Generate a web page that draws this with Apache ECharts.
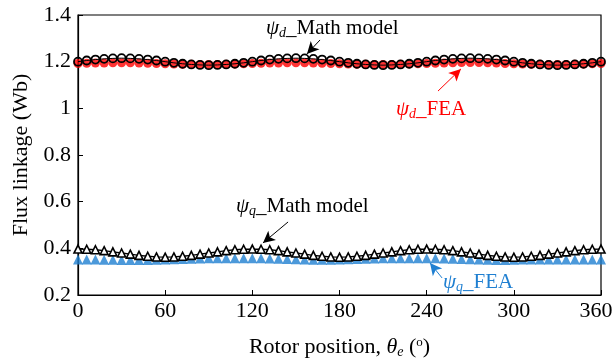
<!DOCTYPE html>
<html><head><meta charset="utf-8">
<script src="https://cdn.jsdelivr.net/npm/echarts@6/dist/echarts.min.js"></script>
<style>html,body{margin:0;padding:0;background:#fff}#c{width:613px;height:358px}</style>
</head><body><div id="c"></div>
<script>
const theta = [0,6,12,18,24,30,36,42,48,54,60,66,72,78,84,90,96,102,108,114,120,126,132,138,144,150,156,162,168,174,180,186,192,198,204,210,216,222,228,234,240,246,252,258,264,270,276,282,288,294,300,306,312,318,324,330,336,342,348,354,360];
const psiDMath = [1.200,1.205,1.209,1.212,1.214,1.215,1.214,1.212,1.209,1.205,1.200,1.195,1.191,1.188,1.186,1.185,1.186,1.188,1.191,1.195,
1.200,1.205,1.209,1.212,1.214,1.215,1.214,1.212,1.209,1.205,1.200,1.195,1.191,1.188,1.186,1.185,1.186,1.188,1.191,1.195,
1.200,1.205,1.209,1.212,1.214,1.215,1.214,1.212,1.209,1.205,1.200,1.195,1.191,1.188,1.186,1.185,1.186,1.188,1.191,1.195,1.200];
const psiDFEA = [1.192,1.193,1.194,1.194,1.195,1.195,1.195,1.194,1.193,1.192,1.191,1.190,1.189,1.189,1.188,1.188,1.188,1.189,1.190,1.191,
1.192,1.193,1.194,1.194,1.195,1.195,1.195,1.194,1.193,1.192,1.191,1.190,1.189,1.189,1.188,1.188,1.188,1.189,1.190,1.191,
1.192,1.193,1.194,1.195,1.196,1.196,1.196,1.195,1.194,1.192,1.191,1.190,1.189,1.189,1.188,1.188,1.188,1.189,1.190,1.191,1.192];
const psiQMath = [0.397,0.396,0.394,0.390,0.385,0.380,0.375,0.370,0.366,0.363,0.362,0.363,0.366,0.370,0.375,0.380,0.385,0.390,0.394,0.396,
0.397,0.396,0.394,0.390,0.385,0.380,0.375,0.370,0.366,0.363,0.362,0.363,0.366,0.370,0.375,0.380,0.385,0.390,0.394,0.396,
0.397,0.396,0.394,0.390,0.385,0.380,0.375,0.370,0.366,0.363,0.362,0.363,0.366,0.370,0.375,0.380,0.385,0.390,0.394,0.396,0.397];
const psiQFEA = [0.352,0.352,0.352,0.351,0.351,0.350,0.350,0.350,0.350,0.351,0.352,0.353,0.354,0.355,0.356,0.357,0.358,0.358,0.358,0.358,
0.357,0.357,0.356,0.355,0.354,0.353,0.352,0.351,0.351,0.351,0.352,0.353,0.354,0.355,0.356,0.357,0.358,0.358,0.358,0.358,
0.358,0.357,0.356,0.355,0.354,0.353,0.352,0.351,0.350,0.350,0.351,0.352,0.352,0.352,0.352,0.352,0.352,0.352,0.352,0.352,0.352];
const xTicks = [0,60,120,180,240,300,360];
const yTicks = [0.2,0.4,0.6,0.8,1,1.2,1.4];

const FONT = '"Liberation Serif","Times New Roman",serif';
const pair = (xs, ys) => xs.map((x, i) => [x, ys[i]]);
const chart = echarts.init(document.getElementById('c'), null, {renderer:'canvas'});

function arrow(from, to, color){
  return {
    silent:true, animation:false,
    symbol:['none','arrow'], symbolSize:[9,12],
    lineStyle:{color:color, width:1, type:'solid'},
    label:{show:false},
    data:[[{coord:from},{coord:to}]]
  };
}
const rich = (color) => ({
  psi:{fontFamily:FONT, fontSize:21, fontStyle:'italic', color:color},
  sub:{fontFamily:FONT, fontSize:14, fontStyle:'italic', color:color, padding:[9,0,0,0]},
  t:{fontFamily:FONT, fontSize:21, color:color}
});
function ann(x, y, sub, txt, color){
  return {type:'text', left:x, top:y, z:100,
    style:{text:'{psi|ψ}{sub|'+sub+'}{t|_'+txt+'}', rich:rich(color), fill:color}};
}

chart.setOption({
  animation:false,
  backgroundColor:'#fff',
  grid:{left:78, right:12, top:15, bottom:63, show:true, borderColor:'#000', borderWidth:1.2, outerBoundsMode:'none', containLabel:false},
  xAxis:{type:'value', min:0, max:360, interval:60,
    name:'Rotor position, {i|θ}{s|e} ({o|o})', nameLocation:'middle', nameGap:41,
    nameTextStyle:{fontFamily:FONT, fontSize:22, color:'#000',
      rich:{i:{fontFamily:FONT, fontSize:22, fontStyle:'italic', color:'#000'},
            s:{fontFamily:FONT, fontSize:14, fontStyle:'italic', color:'#000', padding:[9,0,0,0]},
            o:{fontFamily:FONT, fontSize:13, color:'#000', padding:[0,0,9,0]}}},
    axisLine:{lineStyle:{color:'#000', width:1.2}},
    axisTick:{inside:true, length:5, lineStyle:{color:'#000'}},
    axisLabel:{fontFamily:FONT, fontSize:22, color:'#000', margin:5,
      formatter:v => v === 360 ? '{e|360}' : String(v),
      rich:{e:{fontFamily:FONT, fontSize:22, color:'#000', padding:[0,10,0,0]}}},
    splitLine:{show:false}},
  yAxis:{type:'value', min:0.2, max:1.4, interval:0.2,
    name:'Flux linkage (Wb)', nameLocation:'middle', nameGap:36,
    nameTextStyle:{fontFamily:FONT, fontSize:22, color:'#000'},
    axisLine:{lineStyle:{color:'#000', width:1.2}},
    axisTick:{inside:true, length:5, lineStyle:{color:'#000'}},
    axisLabel:{fontFamily:FONT, fontSize:22, color:'#000', margin:7,
      formatter:v => String(Math.round(v*10)/10)},
    splitLine:{show:false}},
  series:[
    {name:'psiDFEA', type:'scatter', data:pair(theta, psiDFEA), symbol:'circle', symbolSize:9,
      itemStyle:{color:'#ff0000'}, z:2},
    {name:'psiDMath', type:'line', data:pair(theta, psiDMath), symbol:'circle', symbolSize:8, showAllSymbol:true,
      lineStyle:{color:'#000', width:1}, itemStyle:{color:'rgba(255,255,255,0)', borderColor:'#000', borderWidth:1.8}, z:3,
      markLine:arrow([166.6,1.293],[157.6,1.233],'#000')},
    {name:'psiQFEA', type:'scatter', data:pair(theta, psiQFEA), symbol:'triangle', symbolSize:10,
      itemStyle:{color:'#1f7fd1'}, z:2},
    {name:'psiQMath', type:'line', data:pair(theta, psiQMath), symbol:'triangle', symbolSize:8, showAllSymbol:true,
      lineStyle:{color:'#000', width:1.3}, itemStyle:{color:'#fff', borderColor:'#000', borderWidth:1.6}, z:3,
      markLine:arrow([144.6,0.513],[127.3,0.423],'#000')},
    {type:'line', data:[], markLine:arrow([247.8,1.074],[263.6,1.169],'#ff0000')},
    {type:'line', data:[], markLine:arrow([250.6,0.273],[242.3,0.337],'#1f7fd1')}
  ],
  graphic:[
    ann(266, 18, 'd', 'Math model', '#000'),
    ann(396, 99, 'd', 'FEA', '#ff0000'),
    ann(236, 196, 'q', 'Math model', '#000'),
    ann(443, 272, 'q', 'FEA', '#1f7fd1')
  ]
});
</script></body></html>
